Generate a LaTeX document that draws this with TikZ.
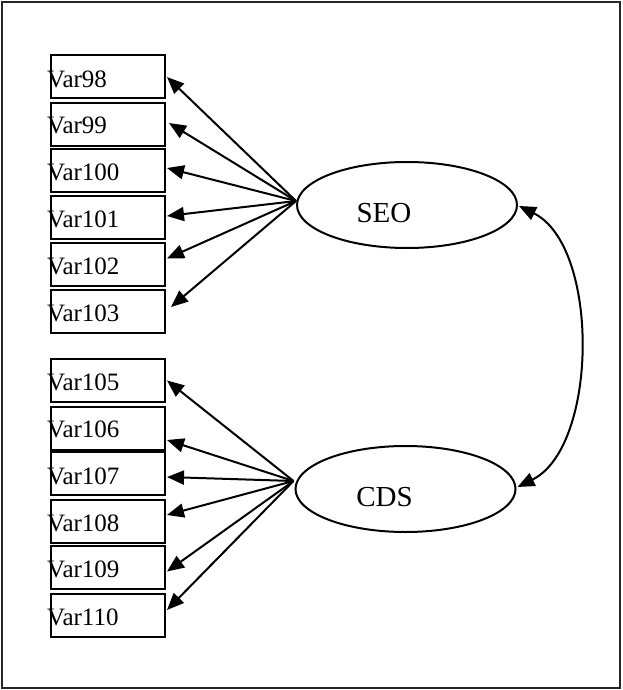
\documentclass[tikz,border=0pt]{standalone}
\usepackage{fontspec}
\setmainfont{Liberation Serif}
\usetikzlibrary{shapes.geometric,arrows.meta,calc}
\tikzset{
  varbox/.style={draw, line width=2pt, minimum width=114pt, minimum height=43pt, inner sep=0pt},
  vartext/.style={anchor=base west, inner sep=0pt, font=\fontsize{25}{29}\selectfont},
  latent/.style={draw, ellipse, line width=2pt, minimum width=220pt, minimum height=86pt, inner sep=0pt},
  lattext/.style={anchor=base, inner sep=0pt, font=\fontsize{29}{33}\selectfont},
  path/.style={line width=2pt, -{Triangle[length=17pt,width=14pt]}},
  cov/.style={line width=2pt, {Triangle[length=17pt,width=14pt]}-{Triangle[length=17pt,width=14pt]}}
}
\begin{document}
\begin{tikzpicture}[x=1pt,y=-1pt]
\useasboundingbox (0,0) rectangle (622,690);
\draw[line width=2pt, black!85] (2,2) rectangle (620,688);

% upper boxes
\node[varbox] (v98) at (108,77) {};
\node[varbox] (v99) at (108,124.5) {};
\node[varbox] (v100) at (108,170) {};
\node[varbox] (v101) at (108,217.5) {};
\node[varbox] (v102) at (108,264.5) {};
\node[varbox] (v103) at (108,311.5) {};
\node[vartext] (t98) at (47,87.3) {Var98};
\node[vartext] (t99) at (47,133.3) {Var99};
\node[vartext] (t100) at (47,180) {Var100};
\node[vartext] (t101) at (47,227.7) {Var101};
\node[vartext] (t102) at (47,274) {Var102};
\node[vartext] (t103) at (47,321.7) {Var103};

% lower boxes
\node[varbox] (v105) at (108,380.5) {};
\node[varbox] (v106) at (108,428) {};
\node[varbox] (v107) at (108,473.5) {};
\node[varbox] (v108) at (108,521) {};
\node[varbox] (v109) at (108,567.5) {};
\node[varbox] (v110) at (108,615.5) {};
\node[vartext] (t105) at (47,390) {Var105};
\node[vartext] (t106) at (47,437.7) {Var106};
\node[vartext] (t107) at (47,484) {Var107};
\node[vartext] (t108) at (47,531) {Var108};
\node[vartext] (t109) at (47,577.7) {Var109};
\node[vartext] (t110) at (47,625.7) {Var110};

% latent variables
\node[latent] (seo) at (407,205) {};
\node[lattext] (seot) at (384,222) {SEO};
\node[latent] (cds) at (405.5,489) {};
\node[lattext] (cdst) at (384.5,506) {CDS};

\coordinate (seoL) at ([yshift=4pt]seo.west);
\coordinate (cdsL) at ([xshift=-1pt,yshift=8pt]cds.west);

\draw[path] (seoL) -- ([xshift=1pt]v98.east);
\draw[path] (seoL) -- ([xshift=3pt,yshift=1.5pt]v99.east);
\draw[path] (seoL) -- ([xshift=1pt,yshift=2pt]v100.east);
\draw[path] (seoL) -- ([xshift=1pt,yshift=1.5pt]v101.east);
\draw[path] (seoL) -- ([xshift=1pt,yshift=6pt]v102.east);
\draw[path] (seoL) -- ([xshift=5pt,yshift=4.5pt]v103.east);

\draw[path] (cdsL) -- ([xshift=1pt]v105.east);
\draw[path] (cdsL) -- ([xshift=1pt,yshift=-12pt]v106.east);
\draw[path] (cdsL) -- ([xshift=1pt,yshift=-3.5pt]v107.east);
\draw[path] (cdsL) -- ([xshift=1pt,yshift=6pt]v108.east);
\draw[path] (cdsL) -- ([xshift=1pt,yshift=-4pt]v109.east);
\draw[path] (cdsL) -- ([xshift=1pt,yshift=5.5pt]v110.east);

\coordinate (seoR) at ([xshift=1pt,yshift=-1pt]seo.east);
\coordinate (cdsR) at ([xshift=1pt,yshift=2pt]cds.east);
\draw[cov] (seoR) .. controls ($(seoR)+(81,40)$) and ($(cdsR)+(81,-40)$) .. (cdsR);
\end{tikzpicture}
\end{document}
